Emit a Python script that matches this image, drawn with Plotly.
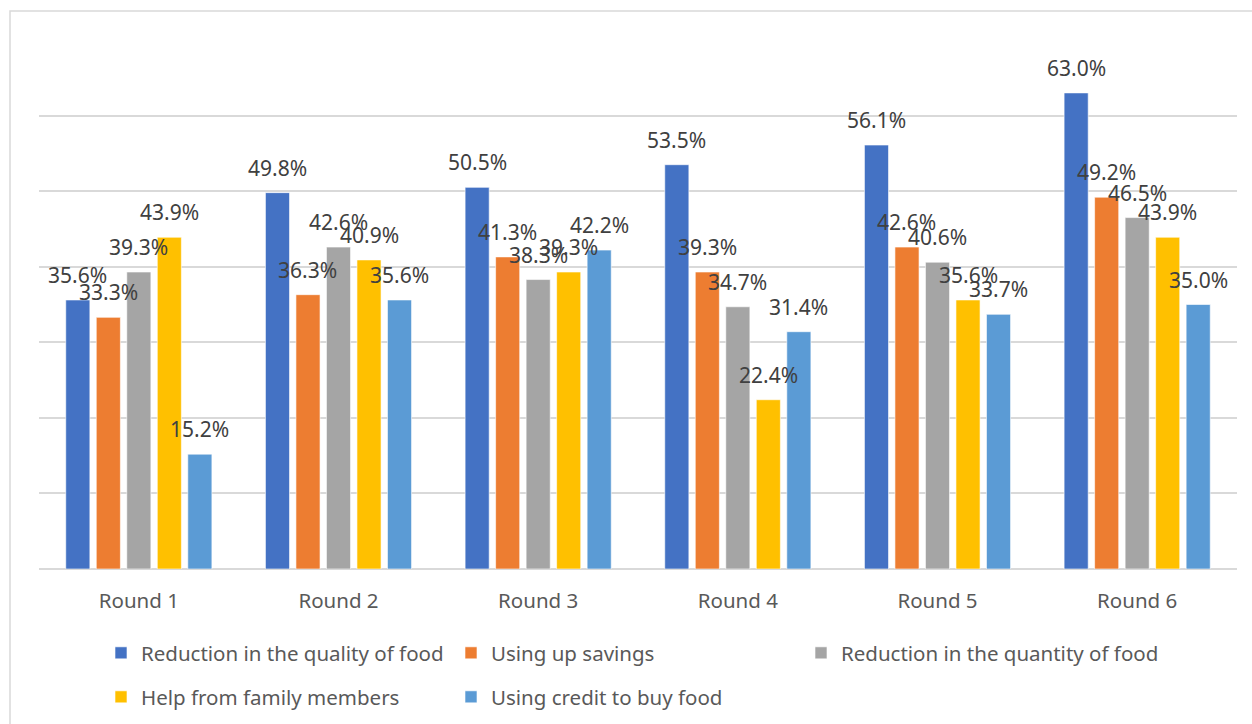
import plotly.graph_objects as go

rounds = ["Round 1", "Round 2", "Round 3", "Round 4", "Round 5", "Round 6"]
series_names = [
    "Reduction in the quality of food",
    "Using up savings",
    "Reduction in the quantity of food",
    "Help from family members",
    "Using credit to buy food",
]
quality = [35.6, 49.8, 50.5, 53.5, 56.1, 63.0]
savings = [33.3, 36.3, 41.3, 39.3, 42.6, 49.2]
quantity = [39.3, 42.6, 38.3, 34.7, 40.6, 46.5]
family = [43.9, 40.9, 39.3, 22.4, 35.6, 43.9]
credit = [15.2, 35.6, 42.2, 31.4, 33.7, 35.0]
colors = ["#4472C4", "#ED7D31", "#A5A5A5", "#FFC000", "#5B9BD5"]
legend_ids = ["legend", "legend", "legend3", "legend2", "legend2"]

all_series = [quality, savings, quantity, family, credit]
FONT = "Noto Sans"
TXT = "#404040"

fig = go.Figure()
for k, (name, vals, col) in enumerate(zip(series_names, all_series, colors)):
    fig.add_trace(go.Bar(
        x=rounds, y=vals, name=name,
        marker=dict(color=col, line=dict(color="white", width=0.6)),
        legend=legend_ids[k],
    ))

# data labels (offset above bars like the original)
bargap = 0.236
slot = (1 - bargap) / 5
annotations = []
for k, vals in enumerate(all_series):
    for i, v in enumerate(vals):
        annotations.append(dict(
            x=i + (k - 2) * slot, y=v, xref="x", yref="y",
            text=f"{v:.1f}%", showarrow=False, yshift=25,
            font=dict(family=FONT, size=21, color=TXT),
        ))

W, H = 1252, 724
ml, mr, mt, mb = 39, 15, 40, 155
pw, ph = W - ml - mr, H - mt - mb

def px_x(p):
    return (p - ml) / pw

def px_y(p):
    return (H - mb - p) / ph

leg_font = dict(family=FONT, size=20.5, color="#595959")
def leg(xp, yp, ew=None):
    d = dict(
        orientation="h", x=px_x(xp), y=px_y(yp), xanchor="left", yanchor="middle",
        font=leg_font, bgcolor="rgba(0,0,0,0)",
    )
    if ew:
        d.update(entrywidth=ew, entrywidthmode="pixels")
    return d

fig.update_layout(
    width=W, height=H,
    margin=dict(l=ml, r=mr, t=mt, b=mb, autoexpand=False),
    paper_bgcolor="white", plot_bgcolor="white",
    barmode="group", bargap=bargap, bargroupgap=0.21,
    font=dict(family=FONT, color="#595959"),
    annotations=annotations,
    xaxis=dict(
        showgrid=False, showline=False, ticks="",
        tickfont=dict(family=FONT, size=20.5, color="#595959"),
        ticklabelstandoff=17,
    ),
    yaxis=dict(
        range=[0, 70], dtick=10, showticklabels=False,
        showgrid=True, gridcolor="#D9D9D9", gridwidth=1.5,
        zeroline=True, zerolinecolor="#D9D9D9", zerolinewidth=1.5,
        showline=False, ticks="",
    ),
    legend=leg(101, 653, 305),
    legend2=leg(101, 697, 305),
    legend3=leg(801, 653),
    shapes=[dict(
        type="rect", xref="paper", yref="paper",
        x0=px_x(10), x1=px_x(1262), y0=px_y(740), y1=px_y(11),
        line=dict(color="#D9D9D9", width=1.5), fillcolor="rgba(0,0,0,0)",
        layer="below",
    )],
)

fig.write_html("out.html")
